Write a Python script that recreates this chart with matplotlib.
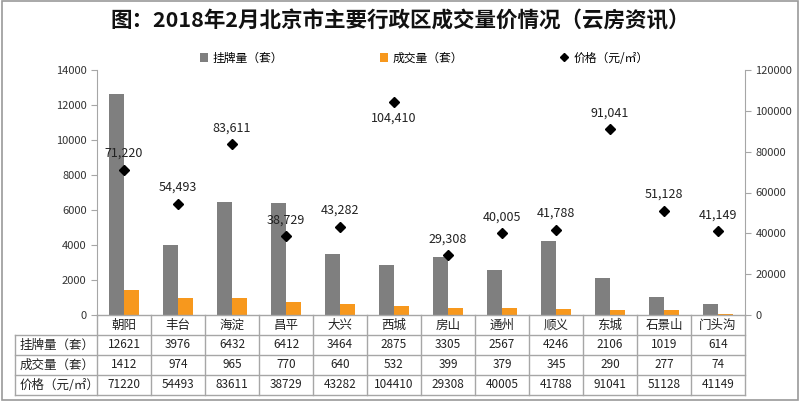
import numpy as np
import matplotlib.pyplot as plt
from matplotlib import rcParams
from matplotlib.transforms import blended_transform_factory
from matplotlib.patches import Rectangle

rcParams["font.family"] = ["Noto Sans CJK SC", "DejaVu Sans"]
GRAY = "#7f7f7f"; ORANGE = "#f7981d"; LINE = "#a6a6a6"

districts = ["朝阳", "丰台", "海淀", "昌平", "大兴", "西城", "房山", "通州", "顺义", "东城", "石景山", "门头沟"]
listings = [12621, 3976, 6432, 6412, 3464, 2875, 3305, 2567, 4246, 2106, 1019, 614]
deals = [1412, 974, 965, 770, 640, 532, 399, 379, 345, 290, 277, 74]
prices = [71220, 54493, 83611, 38729, 43282, 104410, 29308, 40005, 41788, 91041, 51128, 41149]
row_names = ["挂牌量（套）", "成交量（套）", "价格（元/㎡）"]

W, H = 800, 401
fig = plt.figure(figsize=(W / 100, H / 100), dpi=100)
fig.patches.append(Rectangle((0.002, 0.003), 0.996, 0.994, transform=fig.transFigure,
                             fill=False, ec="#9a9a9a", lw=1.2))

x0, x1, ytop, ybot = 97, 745, 70, 315
ax = fig.add_axes([x0 / W, (H - ybot) / H, (x1 - x0) / W, (ybot - ytop) / H])
x = np.arange(len(districts))
bw = 0.28
ax.bar(x - bw / 2, listings, bw, color=GRAY, label="挂牌量（套）")
ax.bar(x + bw / 2, deals, bw, color=ORANGE, label="成交量（套）")
ax.set_xlim(-0.5, len(districts) - 0.5)
ax.set_ylim(0, 14000)
ax.set_yticks(range(0, 14001, 2000))
ax.set_xticks([])
for s in ["top", "right", "bottom"]:
    ax.spines[s].set_visible(False)
ax.spines["left"].set_color(LINE)
ax.tick_params(axis="y", colors=LINE, labelcolor="#333", labelsize=8, length=4)

ax2 = ax.twinx()
ax2.plot(x, prices, "D", color="black", ms=5.5, label="价格（元/㎡）")
ax2.set_ylim(0, 120000)
ax2.set_yticks(range(0, 120001, 20000))
for s in ["top", "left", "bottom"]:
    ax2.spines[s].set_visible(False)
ax2.spines["right"].set_color(LINE)
ax2.tick_params(axis="y", colors=LINE, labelcolor="#333", labelsize=8, length=4)
for xi, p in zip(x, prices):
    below = p > 100000  # top label sits under its marker
    ax2.annotate(f"{p:,}", (xi, p), xytext=(0, -7 if below else 7), textcoords="offset points",
                 ha="center", va="top" if below else "bottom", fontsize=9, color="#222")

# legend
h1, l1 = ax.get_legend_handles_labels()
h2, l2 = ax2.get_legend_handles_labels()
fig.legend(h1 + h2, l1 + l2, loc="center", bbox_to_anchor=(0.53, (H - 58) / H), ncol=3,
           frameon=False, fontsize=8.5, handlelength=0.7, handleheight=0.7,
           columnspacing=8.2, handletextpad=0.4, markerscale=0.8)

fig.text(0.5, (H - 21) / H, "图：2018年2月北京市主要行政区成交量价情况（云房资讯）",
         ha="center", va="center", fontsize=15.5, fontweight="bold", color="#111")

# data table under the plot
tr = blended_transform_factory(ax.transData, ax.transAxes)
rh = 20 / (ybot - ytop)
left_x = -0.5 - (x0 - 15) / ((x1 - x0) / len(districts))
right_x = len(districts) - 0.5
kw = dict(transform=tr, clip_on=False, color=LINE, lw=1)
ax.plot([-0.5, right_x], [0, 0], **kw)
for r in range(1, 5):
    ax.plot([left_x, right_x], [-r * rh, -r * rh], **kw)
for i in range(len(districts) + 1):
    ax.plot([i - 0.5, i - 0.5], [0, -4 * rh], **kw)
ax.plot([left_x, left_x], [-rh, -4 * rh], **kw)

for i, d in enumerate(districts):
    ax.text(i, -0.5 * rh, d, transform=tr, ha="center", va="center", fontsize=9, color="#222")
rows = [listings, deals, prices]
for r, (name, vals) in enumerate(zip(row_names, rows), start=1):
    ax.text(left_x + 0.08, -(r + 0.5) * rh, name, transform=tr, ha="left", va="center",
            fontsize=9, color="#222")
    for i, v in enumerate(vals):
        ax.text(i, -(r + 0.5) * rh, str(v), transform=tr, ha="center", va="center",
                fontsize=8.5, color="#222")

fig.savefig("out.png", dpi=100, facecolor="white")
